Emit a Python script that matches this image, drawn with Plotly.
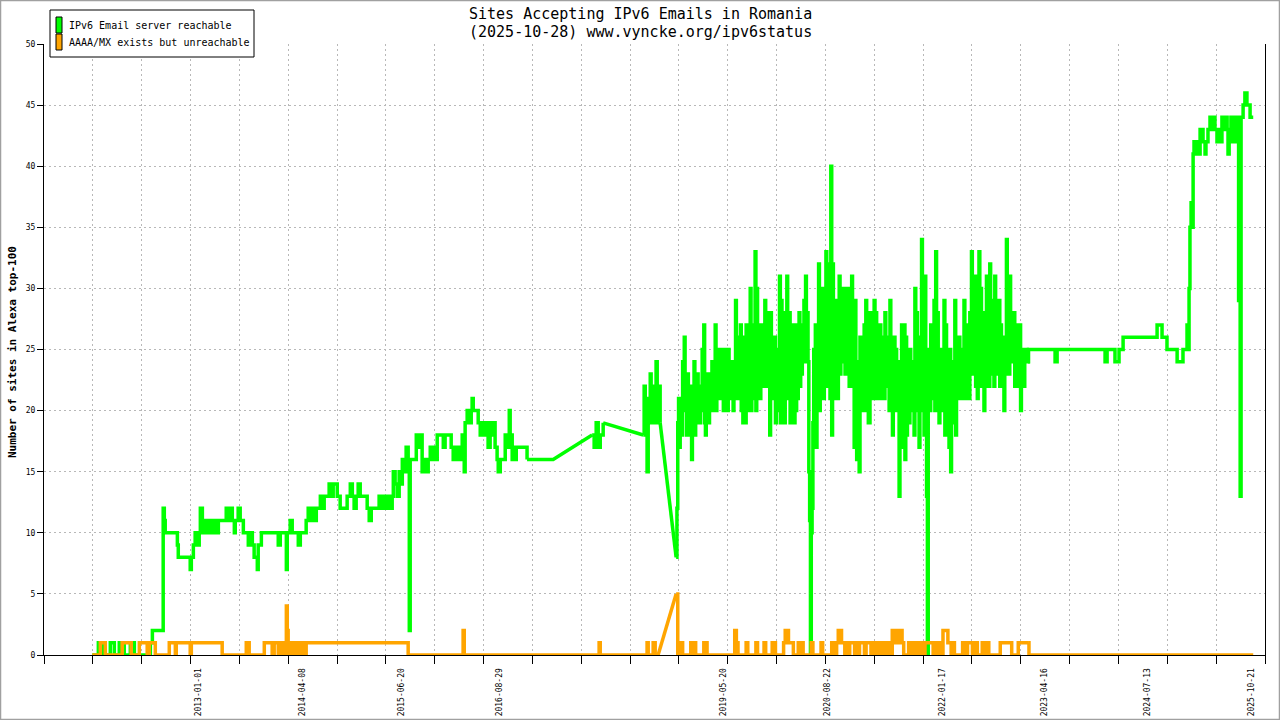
import plotly.graph_objects as go
import pandas as pd

# ---------------- DATA ----------------
# Early period (daily data, drawn as steps)
green_early_dates = [
    "2011-09-16", "2011-10-13", "2011-11-04", "2011-12-05", "2011-12-23", "2012-01-14", "2012-02-05", "2012-03-03", "2012-03-21", "2012-05-31",
    "2012-06-09", "2012-07-27", "2012-08-01", "2012-08-05", "2012-09-28", "2012-10-02", "2012-11-24", "2012-11-29", "2012-12-08", "2012-12-16",
    "2012-12-25", "2013-01-03", "2013-01-08", "2013-01-17", "2013-01-25", "2013-02-03", "2013-02-12", "2013-02-21", "2013-03-06", "2013-03-15",
    "2013-03-29", "2013-05-03", "2013-05-12", "2013-05-21", "2013-05-30", "2013-06-08", "2013-06-12", "2013-06-25", "2013-07-04", "2013-07-18",
    "2013-08-09", "2013-08-18", "2013-08-27", "2013-09-04", "2013-09-18", "2013-09-22", "2013-10-06", "2013-12-20", "2013-12-29", "2014-01-25",
    "2014-01-29", "2014-02-11", "2014-02-20", "2014-03-19", "2014-03-28", "2014-04-23", "2014-05-02", "2014-05-11", "2014-05-20", "2014-05-29",
    "2014-06-07", "2014-06-25", "2014-07-03", "2014-07-12", "2014-08-03", "2014-08-12", "2014-08-21", "2014-09-08", "2014-09-21", "2014-10-22",
    "2014-11-05", "2014-11-14", "2014-11-22", "2014-12-01", "2014-12-10", "2014-12-19", "2015-01-19", "2015-01-28", "2015-02-06", "2015-03-13",
    "2015-03-22", "2015-03-31", "2015-04-09", "2015-04-18", "2015-05-01", "2015-05-10", "2015-05-15", "2015-05-23", "2015-06-01", "2015-06-10",
    "2015-06-15", "2015-06-24", "2015-07-02", "2015-07-11", "2015-07-20", "2015-07-25", "2015-07-29", "2015-08-25", "2015-09-07", "2015-09-16",
    "2015-09-20", "2015-09-29", "2015-10-08", "2015-10-17", "2015-10-26", "2015-11-04", "2015-11-13", "2015-11-21", "2015-11-26", "2015-12-23",
    "2015-12-31", "2016-01-27", "2016-02-05", "2016-02-14", "2016-02-23", "2016-03-03", "2016-03-11", "2016-03-16", "2016-03-20", "2016-03-25",
    "2016-03-29", "2016-04-07", "2016-04-16", "2016-04-25", "2016-04-29", "2016-05-04", "2016-05-26", "2016-06-04", "2016-06-13", "2016-06-22",
    "2016-06-30", "2016-07-09", "2016-07-18", "2016-07-27", "2016-08-05", "2016-08-09", "2016-08-18", "2016-08-23", "2016-09-01", "2016-09-23",
    "2016-10-02", "2016-10-11", "2016-10-15", "2016-10-24", "2016-10-28", "2016-11-02", "2016-11-11", "2016-12-29",
]
green_early_vals = [
    0, 1, 0, 1, 0, 1, 0, 1, 0, 1,
    2, 12, 11, 10, 9, 8, 7, 8, 9, 10,
    9, 10, 12, 10, 11, 10, 11, 10, 11, 10,
    11, 12, 11, 12, 11, 10, 11, 12, 11, 10,
    9, 10, 9, 8, 7, 9, 10, 9, 10, 7,
    10, 11, 10, 9, 10, 11, 12, 11, 12, 11,
    12, 13, 12, 13, 14, 13, 14, 13, 12, 13,
    14, 13, 12, 13, 14, 13, 12, 11, 12, 13,
    12, 13, 12, 13, 12, 13, 15, 14, 13, 15,
    14, 16, 15, 17, 16, 2, 16, 18, 17, 18,
    15, 16, 15, 16, 17, 16, 17, 16, 18, 17,
    18, 17, 16, 17, 16, 17, 16, 18, 17, 15,
    19, 20, 19, 20, 21, 20, 19, 18, 19, 18,
    19, 17, 19, 18, 19, 17, 16, 15, 16, 18,
    17, 20, 18, 16, 17, 16, 17, 16,
]

# sparse period (gaps in measurements -> straight segments)
green_gap1_dates = ["2016-12-29", "2017-04-24", "2017-10-14"]
green_gap1_vals = [16, 16, 18]
green_mid1_dates = ["2017-10-14", "2017-10-23", "2017-11-01", "2017-11-10", "2017-11-19", "2017-11-28", "2017-12-02"]
green_mid1_vals = [18, 17, 19, 17, 18, 18, 19]
green_gap2_dates = ["2017-12-02", "2018-05-29"]
green_gap2_vals = [19, 18]
green_mid2_dates = ["2018-05-29", "2018-06-02", "2018-06-07", "2018-06-15", "2018-06-20", "2018-06-29", "2018-07-03",
                    "2018-07-12", "2018-07-17", "2018-07-25", "2018-07-30", "2018-08-03", "2018-08-12"]
green_mid2_vals = [18, 22, 18, 15, 21, 23, 19, 22, 19, 24, 19, 22, 19]
green_gap3_dates = ["2018-08-12", "2018-10-22"]
green_gap3_vals = [19, 8]

# dense noisy period, regularly sampled
dense_a_start, dense_a_end = "2018-10-22", "2020-09-08"
green_dense_a = [
    8,
    12, 19, 21, 17, 21, 19,  18, 24, 20, 26, 21, 23,  18, 23, 20, 22, 18, 21,
    16, 22, 19, 24, 18, 23,  19, 23, 21, 22, 19, 20,  20, 25, 21, 27, 19, 18,
    22, 20, 23, 19, 22, 21,  20, 24, 21, 23, 20, 27,  20, 25, 22, 24, 21, 23,
    25, 21, 24, 20, 25, 22,  21, 24, 20, 25, 22, 23,  24, 21, 23, 20, 24, 22,
    29, 21, 26, 23, 25, 21,  27, 20, 26, 19, 24, 22,  19, 27, 21, 25, 20, 24,
    30, 20, 27, 22, 26, 21,  33, 20, 30, 22, 27, 24,  21, 27, 23, 25, 22, 26,
    29, 22, 28, 23, 26, 22,  18, 28, 21, 26, 22, 25,  26, 19, 24, 22, 25, 20,
    31, 19, 29, 22, 27, 21,  19, 28, 22, 31, 21, 26,  28, 19, 25, 22, 27, 20,
    19, 27, 20, 25, 21, 24,  28, 22, 26, 23, 27, 24,  29, 24, 31, 25, 28, 24,
    15, 11, 0, 10, 12, 19,  25, 19, 27, 17, 24, 21,  32, 20, 28, 21, 30, 22,
    21, 28, 24, 33, 22, 26,  32, 24, 21, 40,
]
orange_dense_a = [
    5, 0, 1, 1, 0, 0, 0, 0, 0, 1, 0, 1, 0, 0, 0, 0, 0, 1, 1,
    0, 0, 0, 0, 0, 0, 0, 0, 0, 0, 0, 0, 0, 0, 0, 0, 0,
    2, 1, 0, 0, 0, 0, 0, 1, 0, 0, 0, 0, 0, 1, 0, 0, 0, 0, 1, 0, 0, 0, 0, 1, 1,
    0, 0, 0, 0, 0, 1, 2, 2, 1, 1, 1, 0, 0, 0, 1, 0, 1, 0, 0, 0, 0, 0, 1,
    0, 0, 0, 0, 0, 1, 0, 0, 0, 0, 0, 0,
]
dense_b_start, dense_b_end = "2020-09-12", "2023-02-01"
green_dense_b = [
    18, 32, 21,
    23, 29, 22, 27, 21, 26,  31, 23, 28, 25, 30, 24,  30, 23, 28, 25, 30, 23,
    22, 27, 24, 31, 22, 26,  17, 29, 21, 16, 24, 20,  15, 26, 20, 24, 21, 23,
    27, 20, 29, 21, 26, 19,  19, 28, 22, 26, 21, 24,  29, 21, 28, 22, 26, 23,
    21, 27, 22, 25, 21, 26,  21, 28, 22, 26, 23, 25,  20, 29, 21, 26, 18, 24,
    26, 20, 25, 22, 24, 21,  13, 23, 17, 27, 20, 24,  27, 16, 26, 18, 24, 21,
    19, 25, 22, 24, 20, 23,  18, 30, 20, 28, 21, 25,  17, 26, 20, 34, 22, 27,
    18, 31, 22, 13, 0, 23,
    25, 20, 27, 22, 26, 21,  29, 20, 33, 22, 28, 23,  19, 25, 20, 24, 21, 23,
    29, 18, 27, 21, 25, 19,  17, 25, 15, 23, 19, 22,  24, 29, 18, 26, 21, 25,
    26, 22, 25, 21, 24, 23,  29, 21, 26, 22, 27, 24,  21, 28, 24, 33, 23, 27,
    24, 31, 22, 28, 21, 26,  33, 22, 30, 25, 28, 23,  20, 28, 24, 31, 22, 27,
    22, 32, 24, 29, 23, 26,  22, 31, 24, 28, 23, 26,  29, 22, 27, 24, 26, 23,
    20, 26, 23, 34, 24, 28,  23, 31, 24, 27, 25, 28,  28, 22, 26, 24, 27, 25,
    22, 27, 20, 25, 23, 24,  22, 25, 24, 25, 24, 25,
]
orange_dense_b = [
    1, 1, 0, 1, 2, 2, 1, 1, 0, 1, 0, 1, 1, 1, 0, 1, 0, 1, 1, 1, 0, 1, 1, 1, 0, 0,
    1, 1, 0, 1, 1, 0, 0, 1, 1, 0, 0, 2, 2, 1, 1, 2, 2, 1, 0, 0, 0, 1, 0, 1, 0, 1,
    0, 0, 1, 1, 0, 1, 1, 1, 1, 1, 0, 1, 0, 1, 1, 0, 2, 2, 2, 1, 1, 0, 1,
    0, 0, 0, 0, 0, 1, 1, 0, 1, 1, 1, 0, 1, 1, 0, 0, 0, 1, 1, 0, 1,
    0, 0, 0, 0, 0, 0, 0, 1, 1, 1, 1, 1, 1, 1, 0, 0, 0, 0, 1, 1, 1, 1, 1, 1, 1,
]

# late period (steps)
green_late_dates = [
    "2023-02-01", "2023-02-03", "2023-06-01", "2023-06-10", "2024-01-09", "2024-01-18", "2024-02-22", "2024-03-11", "2024-03-29", "2024-08-27",
    "2024-09-18", "2024-10-10", "2024-11-24", "2024-12-20", "2025-01-07", "2025-01-11", "2025-01-16", "2025-01-20", "2025-01-25", "2025-01-29",
    "2025-02-03", "2025-02-07", "2025-02-15", "2025-02-20", "2025-03-02", "2025-03-06", "2025-03-19", "2025-03-28", "2025-04-01", "2025-04-10",
    "2025-04-19", "2025-04-28", "2025-05-03", "2025-05-11", "2025-05-20", "2025-05-25", "2025-06-02", "2025-06-11", "2025-06-20", "2025-06-25",
    "2025-07-04", "2025-07-08", "2025-07-13", "2025-07-21", "2025-07-26", "2025-07-30", "2025-08-04", "2025-08-08", "2025-08-12", "2025-08-17",
    "2025-08-21", "2025-08-24", "2025-08-27", "2025-08-31", "2025-09-04", "2025-09-13", "2025-09-21", "2025-09-30", "2025-10-14", "2025-10-28",
]
green_late_vals = [
    24, 25, 24, 25, 24, 25, 24, 25, 26, 27,
    26, 25, 24, 25, 27, 25, 30, 35, 37, 35,
    41, 42, 41, 42, 41, 43, 42, 41, 42, 43,
    44, 43, 44, 43, 42, 43, 42, 44, 43, 44,
    43, 41, 43, 44, 42, 44, 43, 44, 42, 44,
    43, 29, 44, 13, 44, 45, 46, 45, 44, 44,
]

orange_early_dates = [
    "2011-09-16", "2011-10-22", "2011-11-13", "2012-01-27", "2012-03-07", "2012-04-12", "2012-05-17", "2012-05-26", "2012-06-22", "2012-08-23",
    "2012-09-19", "2012-09-23", "2012-11-24", "2012-11-29", "2013-04-15", "2013-07-31", "2013-08-13", "2013-10-19", "2013-11-23", "2013-12-02",
    "2013-12-20", "2013-12-29", "2014-01-07", "2014-01-16", "2014-01-20", "2014-01-25", "2014-01-29", "2014-02-02", "2014-02-11", "2014-02-20",
    "2014-03-01", "2014-03-10", "2014-03-19", "2014-03-28", "2014-04-06", "2014-04-14", "2014-04-23", "2015-07-20", "2016-03-20", "2016-03-25",
    "2017-11-14", "2017-11-19", "2018-06-15", "2018-06-20", "2018-07-12", "2018-07-21", "2018-08-03",
]
orange_early_vals = [
    0, 1, 0, 1, 0, 1, 0, 1, 0, 1,
    0, 1, 0, 1, 0, 1, 0, 1, 0, 1,
    0, 1, 0, 1, 0, 4, 2, 0, 1, 0,
    1, 0, 1, 0, 1, 0, 1, 0, 2, 0,
    1, 0, 1, 0, 1, 0, 0,
]
orange_gap_dates = ["2018-08-03", "2018-10-22"]
orange_gap_vals = [0, 5]
orange_late_dates = ["2023-02-01", "2023-02-05", "2025-10-28"]
orange_late_vals = [1, 0, 0]

label_dates = ["2013-01-01", "2014-04-08", "2015-06-20", "2016-08-29", "2019-05-20",
               "2020-08-22", "2022-01-17", "2023-04-16", "2024-07-13", "2025-10-21"]
y_ticks = [0, 5, 10, 15, 20, 25, 30, 35, 40, 45, 50]

series_names = ["IPv6 Email server reachable", "AAAA/MX exists but unreachable"]
title_lines = ["Sites Accepting IPv6 Emails in Romania", "(2025-10-28) www.vyncke.org/ipv6status"]
y_title = "Number of sites in Alexa top-100"

assert len(green_early_dates) == len(green_early_vals)
assert len(green_late_dates) == len(green_late_vals)
assert len(orange_early_dates) == len(orange_early_vals)

# ---------------- STYLE ----------------
GREEN = "#00ff00"
ORANGE = "#ffa500"
MONO = "DejaVu Sans Mono"
LW = 3.5
W, H = 1280, 720
PL, PR, PT, PB = 44, 1265, 44, 655
X_START, X_END = "2011-02-13 16:30", "2025-12-19 06:00"
N_XTICKS = 25


def px(x):
    return (x - PL) / (PR - PL)


def py(y):
    return (PB - y) / (PB - PT)


green_dense_dates = (list(pd.date_range(dense_a_start, dense_a_end, periods=len(green_dense_a)))
                     + list(pd.date_range(dense_b_start, dense_b_end, periods=len(green_dense_b))))
green_dense = green_dense_a + green_dense_b
orange_dense_dates = (list(pd.date_range(dense_a_start, dense_a_end, periods=len(orange_dense_a)))
                      + list(pd.date_range(dense_b_start, dense_b_end, periods=len(orange_dense_b))))
orange_dense = orange_dense_a + orange_dense_b

fig = go.Figure()


def add(x, y, color, shape, name):
    fig.add_trace(go.Scatter(x=x, y=y, mode="lines", name=name,
                             line=dict(color=color, width=LW, shape=shape),
                             showlegend=False, hoverinfo="skip"))


g, o = series_names
add(green_early_dates, green_early_vals, GREEN, "hv", g)
add(green_gap1_dates, green_gap1_vals, GREEN, "linear", g)
add(green_mid1_dates, green_mid1_vals, GREEN, "hv", g)
add(green_gap2_dates, green_gap2_vals, GREEN, "linear", g)
add(green_mid2_dates, green_mid2_vals, GREEN, "hv", g)
add(green_gap3_dates, green_gap3_vals, GREEN, "linear", g)
add(green_dense_dates, green_dense, GREEN, "hv", g)
add(green_late_dates, green_late_vals, GREEN, "hv", g)

add(orange_early_dates, orange_early_vals, ORANGE, "hv", o)
add(orange_gap_dates, orange_gap_vals, ORANGE, "linear", o)
add(orange_dense_dates, orange_dense, ORANGE, "hv", o)
add(orange_late_dates, orange_late_vals, ORANGE, "hv", o)

# invisible helper trace on the label axis
fig.add_trace(go.Scatter(x=[label_dates[0]], y=[None], xaxis="x2", mode="lines",
                         showlegend=False, hoverinfo="skip"))

dtick_ms = (pd.Timestamp(X_END) - pd.Timestamp(X_START)).total_seconds() * 1000 / N_XTICKS

grid = dict(showgrid=True, gridcolor="#b8b8b8", gridwidth=1, griddash="2px,3px")

fig.update_layout(
    width=W, height=H,
    margin=dict(l=PL, r=W - PR, t=PT, b=H - PB, autoexpand=False),
    paper_bgcolor="white", plot_bgcolor="white",
    showlegend=False,
    xaxis=dict(type="date", range=[X_START, X_END], tickmode="linear", tick0=X_START, dtick=dtick_ms,
               ticks="outside", ticklen=8, tickwidth=1, tickcolor="black", showticklabels=False,
               showline=True, linecolor="black", linewidth=1, zeroline=False, **grid),
    xaxis2=dict(type="date", overlaying="x", anchor="y", side="bottom", range=[X_START, X_END],
                tickmode="array", tickvals=label_dates, ticktext=label_dates, tickangle=-90,
                ticks="outside", ticklen=9, tickcolor="rgba(0,0,0,0)", showgrid=False, showline=False,
                zeroline=False, tickfont=dict(family=MONO, size=8, color="black")),
    yaxis=dict(range=[0, 50], tickmode="array", tickvals=y_ticks, ticks="outside", ticklen=6,
               tickcolor="black", showline=True, mirror=True, linecolor="black", linewidth=1,
               zeroline=False, tickfont=dict(family=MONO, size=8, color="black"), **grid),
)

shapes = [
    # outer frame
    dict(type="rect", xref="paper", yref="paper", x0=px(0.5), x1=px(W - 0.5), y0=py(H - 0.5), y1=py(0.5),
         line=dict(color="#a0a0a0", width=1.5), fillcolor="rgba(0,0,0,0)", layer="above"),
    # legend box
    dict(type="rect", xref="paper", yref="paper", x0=px(50), x1=px(254), y0=py(57), y1=py(10),
         line=dict(color="black", width=1), fillcolor="white", layer="above"),
    dict(type="rect", xref="paper", yref="paper", x0=px(56), x1=px(62), y0=py(33), y1=py(17),
         line=dict(color="black", width=1), fillcolor=GREEN, layer="above"),
    dict(type="rect", xref="paper", yref="paper", x0=px(56), x1=px(62), y0=py(50), y1=py(34),
         line=dict(color="black", width=1), fillcolor=ORANGE, layer="above"),
]
annotations = [
    dict(text=title_lines[0], xref="paper", yref="paper", x=px(640), y=py(14), xanchor="center", yanchor="middle",
         showarrow=False, font=dict(family=MONO, size=15, color="black")),
    dict(text=title_lines[1], xref="paper", yref="paper", x=px(640), y=py(32), xanchor="center", yanchor="middle",
         showarrow=False, font=dict(family=MONO, size=15, color="black")),
    dict(text=g, xref="paper", yref="paper", x=px(67), y=py(25), xanchor="left", yanchor="middle",
         showarrow=False, font=dict(family=MONO, size=10, color="black")),
    dict(text=o, xref="paper", yref="paper", x=px(67), y=py(43), xanchor="left", yanchor="middle",
         showarrow=False, font=dict(family=MONO, size=10, color="black")),
    dict(text="<b>" + y_title + "</b>", xref="paper", yref="paper", x=px(12), y=py(352), textangle=-90,
         xanchor="center", yanchor="middle", showarrow=False, font=dict(family=MONO, size=11, color="black")),
]
fig.update_layout(shapes=shapes, annotations=annotations)

fig.write_html("out.html", config={"displayModeBar": False},
               post_script="document.body.style.margin='0';document.body.style.overflow='hidden';")
